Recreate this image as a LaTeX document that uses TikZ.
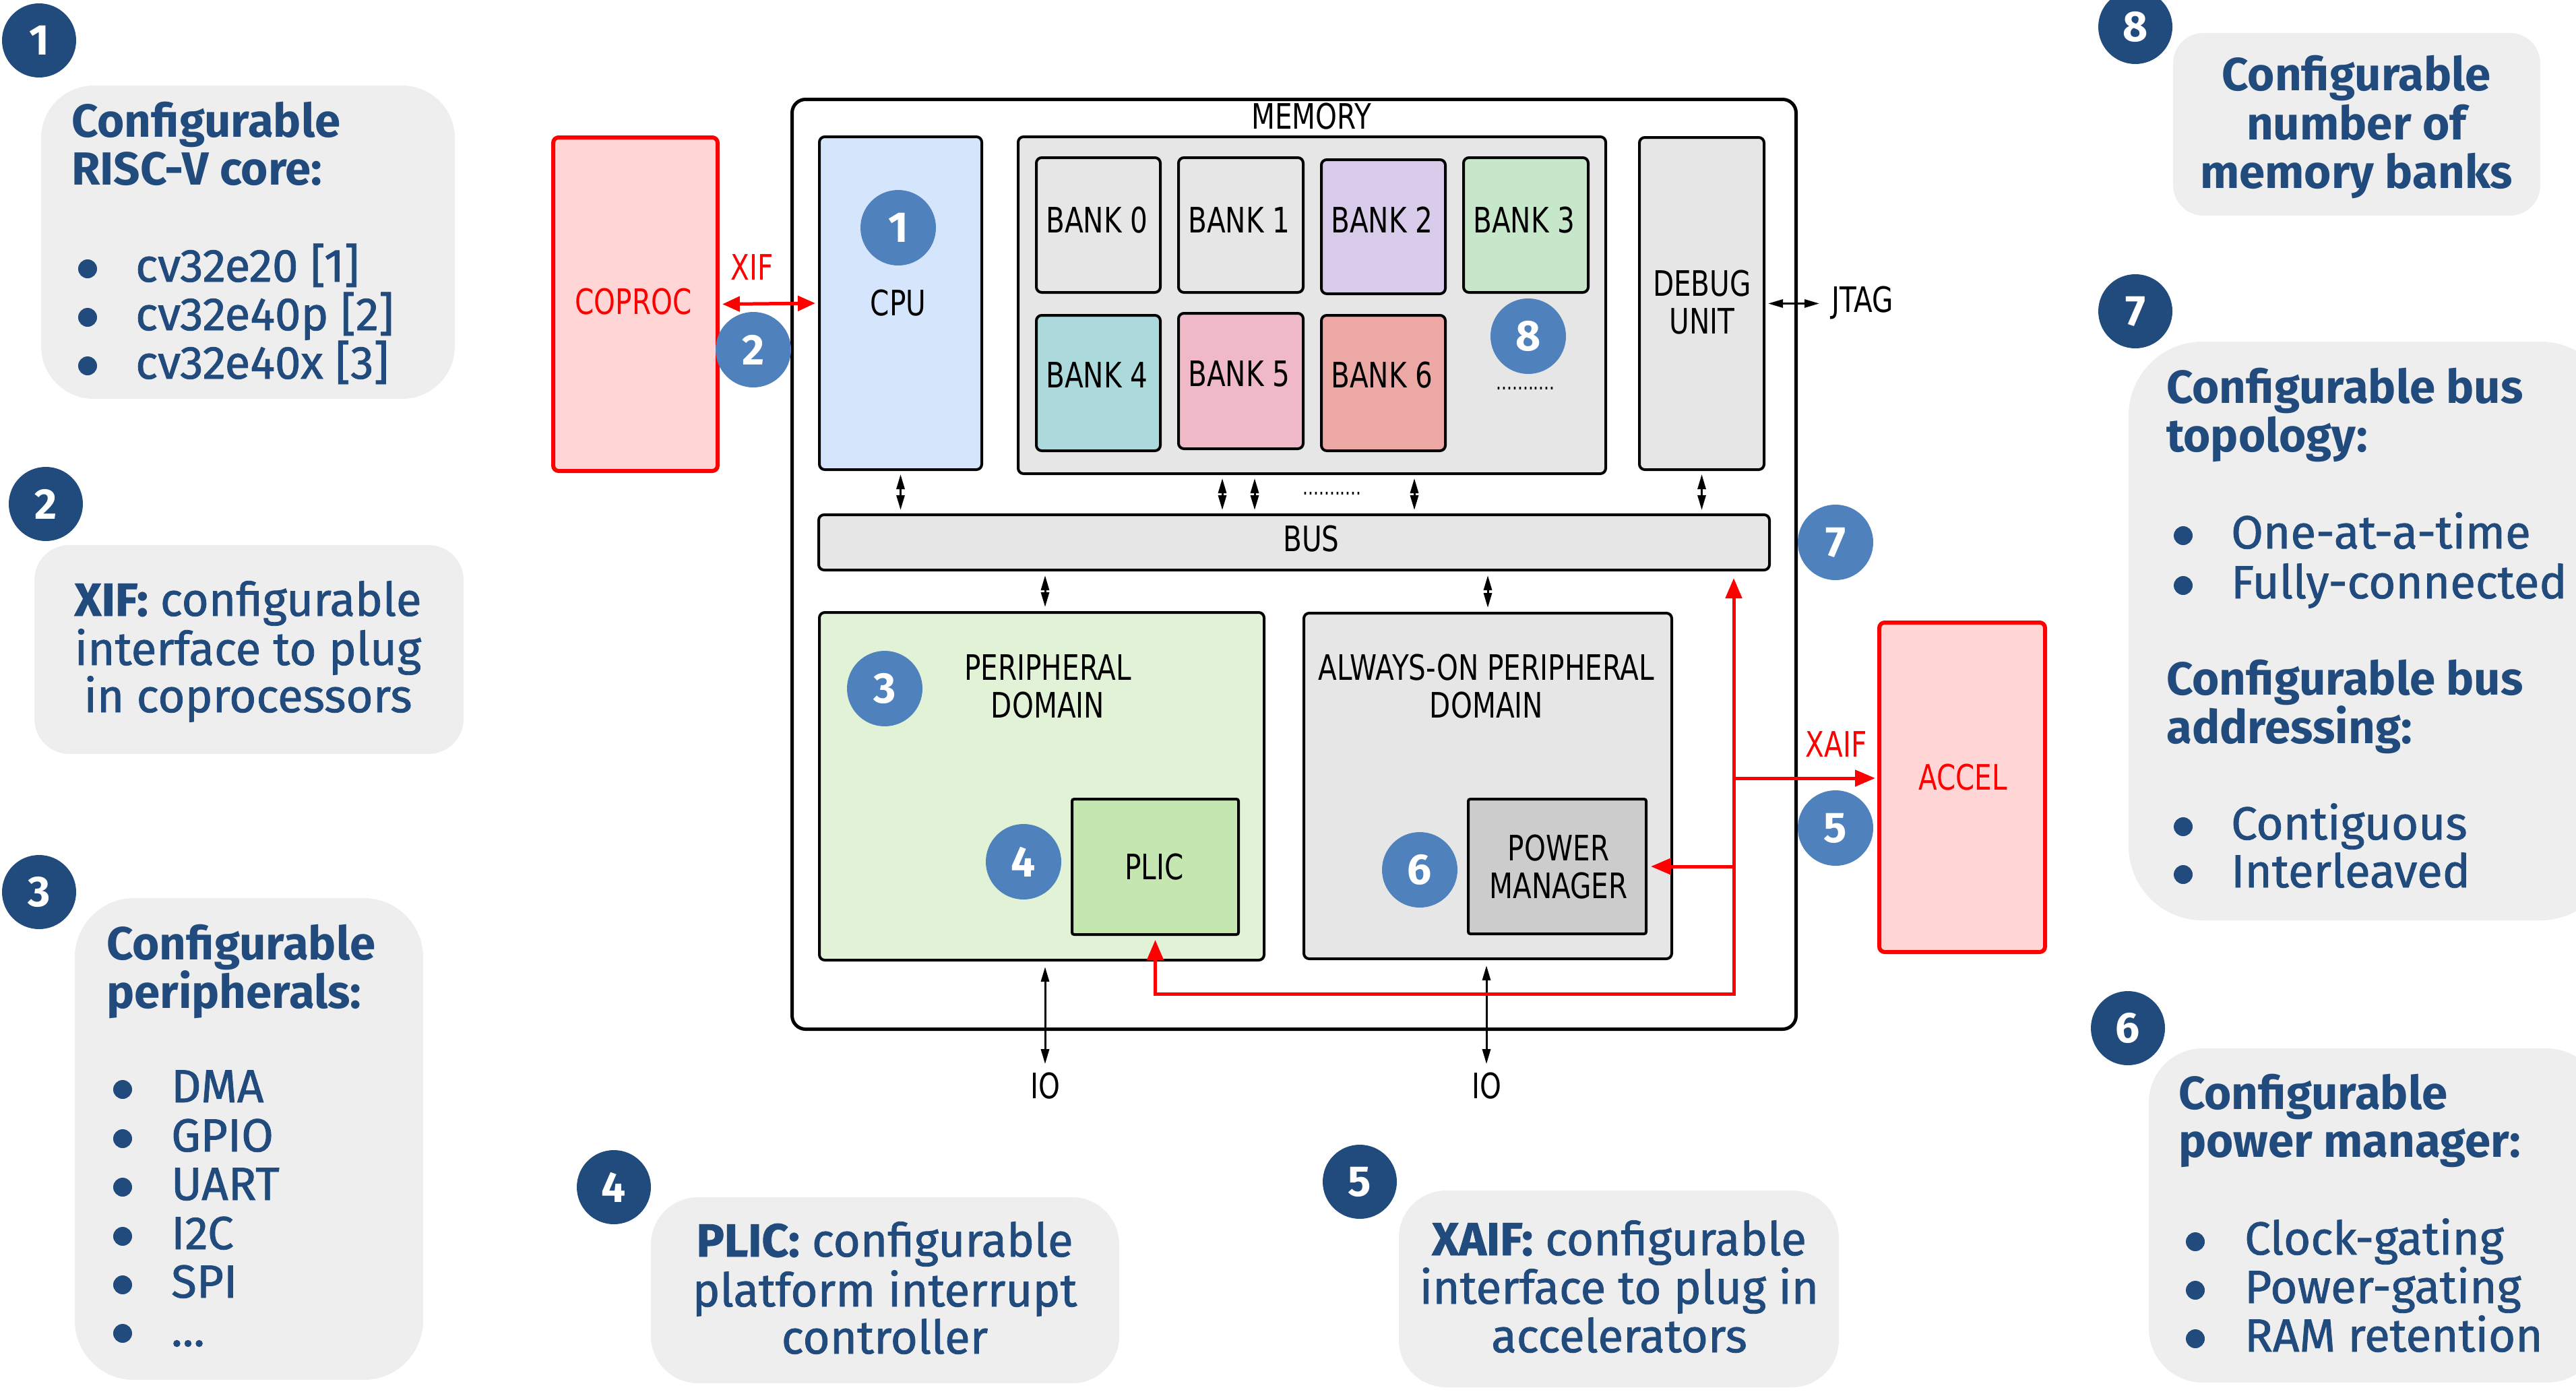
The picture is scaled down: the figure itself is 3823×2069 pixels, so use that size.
\documentclass[tikz,border=0pt]{standalone}
\usepackage{fontspec}
\setmainfont{Fira Sans}
\newfontfamily\annfont[FakeBold=1.2]{Fira Sans}
\newfontfamily\diagfont[FakeStretch=0.78]{DejaVu Sans}
\usetikzlibrary{arrows.meta}
\definecolor{numdark}{HTML}{214A7D}
\definecolor{numlight}{HTML}{4F81BD}
\definecolor{notegray}{HTML}{EEEEEE}
\definecolor{redline}{HTML}{FF0000}
\definecolor{redfill}{HTML}{FFD5D5}
\definecolor{cpublue}{HTML}{D5E5FC}
\definecolor{lgray}{HTML}{E6E6E6}
\definecolor{mgray}{HTML}{CCCCCC}
\definecolor{bkpurple}{HTML}{D9CCEB}
\definecolor{bkgreen}{HTML}{C7E7CA}
\definecolor{bkteal}{HTML}{ABD9DC}
\definecolor{bkpink}{HTML}{F0B9C7}
\definecolor{bksalmon}{HTML}{ECA8A5}
\definecolor{pergreen}{HTML}{E2F2D6}
\definecolor{plicgreen}{HTML}{C5E6B0}
\begin{document}
\begin{tikzpicture}[x=1pt,y=-1pt,
  dnum/.style={circle,fill=numdark,text=white,minimum size=110pt,inner sep=0pt,font=\bfseries\fontsize{64}{64}\selectfont},
  lnum/.style={circle,fill=numlight,text=white,minimum size=112pt,inner sep=0pt,font=\bfseries\fontsize{64}{64}\selectfont},
  blk/.style={draw=black,line width=4pt,rounded corners=8pt,anchor=north west,inner sep=0pt},
  redbox/.style={blk,draw=redline,fill=redfill,line width=6pt},
  lbl/.style={font=\diagfont\fontsize{52}{56}\selectfont,inner sep=0pt,anchor=base},
  rlbl/.style={lbl,text=redline},
  dots/.style={font=\diagfont\fontsize{32}{32}\selectfont,inner sep=0pt,anchor=base},
  ann/.style={text=numdark,font=\annfont\fontsize{69}{71}\selectfont,inner sep=0pt},
  annb/.style={text=numdark,font=\bfseries\fontsize{69}{71}\selectfont,inner sep=0pt},
  bul/.style={fill=numdark},
  barrow/.style={{Triangle[length=22pt,width=12pt]}-{Triangle[length=22pt,width=12pt]},line width=3pt},
  rarrow/.style={-{Triangle[length=30pt,width=24pt]},draw=redline,line width=5pt},
  rboth/.style={{Triangle[length=26pt,width=22pt]}-{Triangle[length=26pt,width=22pt]},draw=redline,line width=5pt},
]
\useasboundingbox (0,0) rectangle (3823,2069);
\clip (0,0) rectangle (3823,2069);

% ---------- annotation boxes ----------
\fill[notegray, rounded corners=78pt] (61,127) rectangle (675,592);
\fill[notegray, rounded corners=52pt] (51,809) rectangle (688,1119);
\fill[notegray, rounded corners=88pt] (111,1333) rectangle (628,2048);
\fill[notegray, rounded corners=70pt] (966,1777) rectangle (1661,2053);
\fill[notegray, rounded corners=70pt] (2076,1767) rectangle (2729,2059);
\fill[notegray, rounded corners=80pt] (3189,1556) rectangle (3860,2052);
\fill[notegray, rounded corners=110pt] (3159,507) rectangle (3880,1366);
\fill[notegray, rounded corners=45pt] (3225,49) rectangle (3770,320);

\node[dnum] (d1) at (58,60) {1};
\node[dnum] (d2) at (68,748) {2};
\node[dnum] (d3) at (58,1324) {3};
\node[dnum] (d4) at (911,1762) {4};
\node[dnum] (d5) at (2018,1754) {5};
\node[dnum] (d6) at (3158,1526) {6};
\node[dnum] (d7) at (3169,462) {7};
\node[dnum] (d8) at (3169,40) {8};

% box 1
\node[annb,anchor=base west] (n1h1) at (106,203) {Configurable};
\node[annb,anchor=base west] (n1h2) at (106,274) {RISC-V core:};
\fill[bul] (130,399) circle[radius=14];
\node[ann,anchor=base west] (n1i1) at (201,418) {cv32e20 [1]};
\fill[bul] (130,471) circle[radius=14];
\node[ann,anchor=base west] (n1i2) at (201,490) {cv32e40p [2]};
\fill[bul] (130,543) circle[radius=14];
\node[ann,anchor=base west] (n1i3) at (201,562) {cv32e40x [3]};
% box 2
\node[ann,anchor=base] (n2l1) at (368,914) {{\bfseries XIF:} configurable};
\node[ann,anchor=base] (n2l2) at (368,987) {interface to plug};
\node[ann,anchor=base] (n2l3) at (368,1057) {in coprocessors};
% box 3
\node[annb,anchor=base west] (n3h1) at (158,1424) {Configurable};
\node[annb,anchor=base west] (n3h2) at (158,1496) {peripherals:};
\fill[bul] (182,1617) circle[radius=14];
\node[ann,anchor=base west] (n3i1) at (254,1636) {DMA};
\fill[bul] (182,1690) circle[radius=14];
\node[ann,anchor=base west] (n3i2) at (254,1709) {GPIO};
\fill[bul] (182,1762) circle[radius=14];
\node[ann,anchor=base west] (n3i3) at (254,1781) {UART};
\fill[bul] (182,1835) circle[radius=14];
\node[ann,anchor=base west] (n3i4) at (254,1854) {I2C};
\fill[bul] (182,1907) circle[radius=14];
\node[ann,anchor=base west] (n3i5) at (254,1926) {SPI};
\fill[bul] (182,1979) circle[radius=14];
\node[ann,anchor=base west] (n3i6) at (254,1998) {...};
% box 4
\node[ann,anchor=base] (n4l1) at (1313,1865) {{\bfseries PLIC:} configurable};
\node[ann,anchor=base] (n4l2) at (1313,1939) {platform interrupt};
\node[ann,anchor=base] (n4l3) at (1313,2009) {controller};
% box 5
\node[ann,anchor=base] (n5l1) at (2403,1863) {{\bfseries XAIF:} configurable};
\node[ann,anchor=base] (n5l2) at (2403,1935) {interface to plug in};
\node[ann,anchor=base] (n5l3) at (2403,2007) {accelerators};
% box 6
\node[annb,anchor=base west] (n6h1) at (3233,1646) {Configurable};
\node[annb,anchor=base west] (n6h2) at (3233,1717) {power manager:};
\fill[bul] (3258,1843) circle[radius=14];
\node[ann,anchor=base west] (n6i1) at (3331,1862) {Clock-gating};
\fill[bul] (3258,1915) circle[radius=14];
\node[ann,anchor=base west] (n6i2) at (3331,1934) {Power-gating};
\fill[bul] (3258,1987) circle[radius=14];
\node[ann,anchor=base west] (n6i3) at (3331,2006) {RAM retention};
% box 7
\node[annb,anchor=base west] (n7h1) at (3215,598) {Configurable bus};
\node[annb,anchor=base west] (n7h2) at (3215,670) {topology:};
\node[annb,anchor=base west] (n7h3) at (3215,1031) {Configurable bus};
\node[annb,anchor=base west] (n7h4) at (3215,1103) {addressing:};
\fill[bul] (3240,795) circle[radius=14];
\node[ann,anchor=base west] (n7i1) at (3311,814) {One-at-a-time};
\fill[bul] (3240,869) circle[radius=14];
\node[ann,anchor=base west] (n7i2) at (3311,888) {Fully-connected};
\fill[bul] (3240,1227) circle[radius=14];
\node[ann,anchor=base west] (n7i3) at (3311,1246) {Contiguous};
\fill[bul] (3240,1298) circle[radius=14];
\node[ann,anchor=base west] (n7i4) at (3311,1317) {Interleaved};
% box 8
\node[annb,anchor=base] (n8l1) at (3497,134) {Configurable};
\node[annb,anchor=base] (n8l2) at (3497,207) {number of};
\node[annb,anchor=base] (n8l3) at (3497,279) {memory banks};

% ---------- diagram ----------
\node[blk,line width=5pt,rounded corners=20pt,minimum width=1490pt,minimum height=1380pt] (outer) at (1173,145) {};
\node[redbox,minimum width=244pt,minimum height=495pt] (coproc) at (818,201) {};
\node[blk,fill=cpublue,minimum width=241pt,minimum height=494pt] (cpu) at (1214,201) {};
\node[blk,fill=lgray,minimum width=872pt,minimum height=500pt] (mem) at (1509,201) {};
\node[blk,fill=lgray,minimum width=184pt,minimum height=200pt] (b0) at (1536,232) {};
\node[blk,fill=lgray,minimum width=185pt,minimum height=200pt] (b1) at (1747,232) {};
\node[blk,fill=bkpurple,minimum width=184pt,minimum height=199pt] (b2) at (1959,235) {};
\node[blk,fill=bkgreen,minimum width=185pt,minimum height=200pt] (b3) at (2170,232) {};
\node[blk,fill=bkteal,minimum width=184pt,minimum height=201pt] (b4) at (1536,466) {};
\node[blk,fill=bkpink,minimum width=185pt,minimum height=201pt] (b5) at (1747,463) {};
\node[blk,fill=bksalmon,minimum width=184pt,minimum height=201pt] (b6) at (1959,466) {};
\node[blk,fill=lgray,minimum width=185pt,minimum height=493pt] (debug) at (2431,202) {};
\node[blk,fill=lgray,minimum width=1411pt,minimum height=82pt] (bus) at (1213,762) {};
\node[blk,fill=pergreen,minimum width=660pt,minimum height=516pt] (periph) at (1214,907) {};
\node[blk,fill=plicgreen,rounded corners=3pt,minimum width=247pt,minimum height=201pt] (plic) at (1589,1184) {};
\node[blk,fill=lgray,minimum width=546pt,minimum height=513pt] (aon) at (1933,908) {};
\node[blk,fill=mgray,rounded corners=3pt,minimum width=264pt,minimum height=200pt] (pm) at (2177,1184) {};
\node[redbox,minimum width=246pt,minimum height=489pt] (accel) at (2786,921) {};

% labels
\node[lbl] (memlbl) at (1946,191) {MEMORY};
\node[lbl] (cpulbl) at (1333,468) {CPU};
\node[rlbl] (coplbl) at (940,466) {COPROC};
\node[rlbl] (xiflbl) at (1116,415) {XIF};
\node[lbl] (b0lbl) at (1628,345) {BANK 0};
\node[lbl] (b1lbl) at (1839,345) {BANK 1};
\node[lbl] (b2lbl) at (2051,345) {BANK 2};
\node[lbl] (b3lbl) at (2262,345) {BANK 3};
\node[lbl] (b4lbl) at (1628,575) {BANK 4};
\node[lbl] (b5lbl) at (1839,573) {BANK 5};
\node[lbl] (b6lbl) at (2051,575) {BANK 6};
\node[dots] (memdots) at (2264,578) {...........};
\node[dots] (busdots) at (1977,734) {...........};
\node[lbl] (dbg1) at (2526,439) {DEBUG};
\node[lbl] (dbg2) at (2526,495) {UNIT};
\node[lbl,anchor=base west] (jtag) at (2718,463) {JTAG};
\node[lbl] (buslbl) at (1946,818) {BUS};
\node[lbl] (per1) at (1555,1009) {PERIPHERAL};
\node[lbl] (per2) at (1555,1065) {DOMAIN};
\node[lbl] (aon1) at (2206,1009) {ALWAYS-ON PERIPHERAL};
\node[lbl] (aon2) at (2206,1065) {DOMAIN};
\node[lbl] (pliclbl) at (1713,1305) {PLIC};
\node[lbl] (pm1) at (2313,1277) {POWER};
\node[lbl] (pm2) at (2313,1333) {MANAGER};
\node[rlbl] (acclbl) at (2913,1172) {ACCEL};
\node[rlbl] (xaiflbl) at (2725,1123) {XAIF};
\node[lbl] (io1) at (1551,1630) {IO};
\node[lbl] (io2) at (2206,1630) {IO};

% in-diagram number circles
\node[lnum] (c1) at (1333,338) {1};
\node[lnum] (c2) at (1118,519) {2};
\node[lnum] (c3) at (1313,1022) {3};
\node[lnum] (c4) at (1519,1279) {4};
\node[lnum] (c5) at (2724,1229) {5};
\node[lnum] (c6) at (2107,1291) {6};
\node[lnum] (c7) at (2724,805) {7};
\node[lnum] (c8) at (2268,499) {8};

% black connectors
\draw[barrow,shorten <=5pt,shorten >=5pt] (cpu.south) -- (cpu.south |- bus.north);
\draw[barrow,shorten <=5pt,shorten >=5pt] (1814,0 |- mem.south) -- (1814,0 |- bus.north);
\draw[barrow,shorten <=5pt,shorten >=5pt] (1862,0 |- mem.south) -- (1862,0 |- bus.north);
\draw[barrow,shorten <=5pt,shorten >=5pt] (2099,0 |- mem.south) -- (2099,0 |- bus.north);
\draw[barrow,shorten <=5pt,shorten >=5pt] (debug.south) -- (debug.south |- bus.north);
\draw[barrow,shorten <=6pt,shorten >=6pt] (1551,0 |- bus.south) -- (1551,0 |- periph.north);
\draw[barrow,shorten <=6pt,shorten >=6pt] (aon.north |- bus.south) -- (aon.north);
\draw[barrow,shorten <=8pt,shorten >=12pt] (io1.north |- periph.south) -- (io1.north);
\draw[barrow,shorten <=8pt,shorten >=12pt] (io2.north |- aon.south) -- (io2.north);
\draw[barrow,shorten <=4pt,shorten >=18pt] (debug.east) -- (debug.east -| jtag.west);

% red connectors
\draw[rboth,shorten <=4pt,shorten >=4pt] (coproc.east) -- (cpu.west);
\coordinate (rc) at (2573,1475);
\coordinate (xj) at (2573,1155);
\draw[redline,line width=5pt,{Triangle[length=30pt,width=24pt]}-{Triangle[length=30pt,width=24pt]},shorten <=6pt,shorten >=10pt] (plic.south) |- (rc) -- (rc |- bus.south);
\draw[rarrow,shorten >=5pt] (rc |- pm.east) -- (pm.east);
\draw[rarrow,shorten >=3pt] (xj) -- (xj -| accel.west);
\end{tikzpicture}
\end{document}
